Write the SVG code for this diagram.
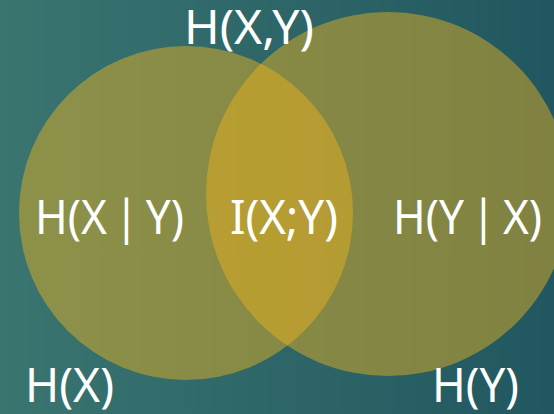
<svg xmlns="http://www.w3.org/2000/svg" width="554" height="414" viewBox="0 0 554 414">
  <defs>
    <linearGradient id="bg" x1="0" y1="0" x2="1" y2="0">
      <stop offset="0" stop-color="#3a7570"/>
      <stop offset="1" stop-color="#215760"/>
    </linearGradient>
  </defs>
  <style>
    .set { fill: #ebb21e; fill-opacity: 0.47; }
    .lbl { fill: #ffffff; font-family: "Noto Sans", "Open Sans", "DejaVu Sans", sans-serif; font-size: 47px; }
  </style>
  <rect x="0" y="0" width="554" height="414" fill="url(#bg)"/>
  <g id="set-x">
    <circle class="set" cx="186" cy="213" r="167"/>
  </g>
  <g id="set-y">
    <circle class="set" cx="388" cy="194" r="182"/>
  </g>
  <g id="connectors"></g>
  <g id="labels">
    <text class="lbl" x="184" y="44" textLength="130" lengthAdjust="spacingAndGlyphs">H(X,Y)</text>
    <text class="lbl" x="35" y="234" textLength="149" lengthAdjust="spacingAndGlyphs">H(X&#8201;|&#8201;Y)</text>
    <text class="lbl" x="230" y="234" textLength="108" lengthAdjust="spacingAndGlyphs">I(X;Y)</text>
    <text class="lbl" x="393" y="234" textLength="149" lengthAdjust="spacingAndGlyphs">H(Y&#8201;|&#8201;X)</text>
    <text class="lbl" x="25" y="402" textLength="89" lengthAdjust="spacingAndGlyphs">H(X)</text>
    <text class="lbl" x="432" y="402" textLength="87" lengthAdjust="spacingAndGlyphs">H(Y)</text>
  </g>
</svg>
